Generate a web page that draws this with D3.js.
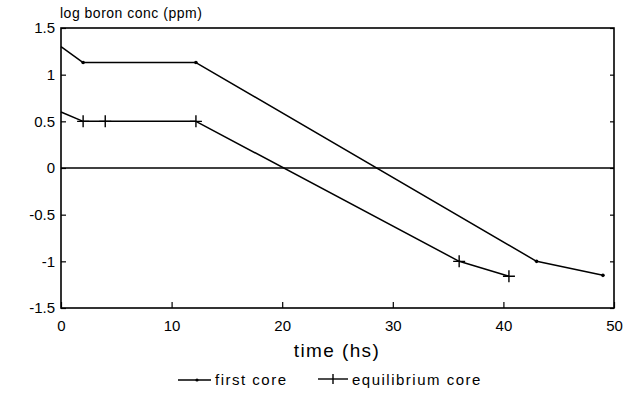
<!DOCTYPE html>
<html>
<head>
<meta charset="utf-8">
<script src="https://cdn.jsdelivr.net/npm/d3@7/dist/d3.min.js"></script>
<style>
  html, body { margin: 0; padding: 0; background: #fff; }
  svg text { font-family: "Liberation Sans", Arial, Helvetica, sans-serif; fill: #000; }
</style>
</head>
<body>
<svg id="chart" width="635" height="398"></svg>
<script>
// Boron concentration (log ppm) against time (hours) for two cores
const firstCoreTime  = [0, 2, 12.2, 43, 49];
const firstCoreLog   = [1.30, 1.13, 1.13, -1.00, -1.15];
const equilCoreTime  = [0, 2, 4, 12.2, 36, 40.5];
const equilCoreLog   = [0.60, 0.50, 0.50, 0.50, -1.00, -1.16];

const xTicks = [0, 10, 20, 30, 40, 50];
const yTicks = [1.5, 1, 0.5, 0, -0.5, -1, -1.5];
const yTickLabels = ["1.5", "1", "0.5", "0", "-0.5", "-1", "-1.5"];

const seriesNames = ["first core", "equilibrium core"];

const svg = d3.select("#chart");
const plotLeft = 61, plotRight = 614, plotTop = 28, plotBottom = 308;

const x = d3.scaleLinear().domain([0, 50]).range([plotLeft, plotRight]);
const y = d3.scaleLinear().domain([-1.5, 1.5]).range([plotBottom, plotTop]);

// frame
svg.append("rect")
  .attr("x", plotLeft).attr("y", plotTop)
  .attr("width", plotRight - plotLeft).attr("height", plotBottom - plotTop)
  .attr("fill", "none").attr("stroke", "#000").attr("stroke-width", 1.6);

// zero line
svg.append("line")
  .attr("x1", plotLeft).attr("x2", plotRight)
  .attr("y1", y(0)).attr("y2", y(0))
  .attr("stroke", "#000").attr("stroke-width", 1.3);

// y axis: inward ticks on both sides
const yAxis = d3.axisLeft(y).tickValues(yTicks).tickSize(-5).tickPadding(10)
  .tickFormat((d, i) => yTickLabels[i]);
const gy = svg.append("g").attr("transform", `translate(${plotLeft},0)`).call(yAxis);
gy.select(".domain").remove();
gy.selectAll("line").attr("stroke", "#000").attr("stroke-width", 1.2);
gy.selectAll("text").attr("font-size", 15).attr("x", -6)
  .style("font-family", "'Liberation Sans', Arial, sans-serif");

const yAxisR = d3.axisRight(y).tickValues(yTicks).tickSize(-4).tickFormat("");
const gyr = svg.append("g").attr("transform", `translate(${plotRight},0)`).call(yAxisR);
gyr.select(".domain").remove();
gyr.selectAll("line").attr("stroke", "#000").attr("stroke-width", 1.2);

// x axis: inward ticks
const xAxis = d3.axisBottom(x).tickValues(xTicks).tickSize(-6).tickPadding(12);
const gx = svg.append("g").attr("transform", `translate(0,${plotBottom})`).call(xAxis);
gx.select(".domain").remove();
gx.selectAll("line").attr("stroke", "#000").attr("stroke-width", 1.2);
gx.selectAll("text").attr("font-size", 15)
  .style("font-family", "'Liberation Sans', Arial, sans-serif");

// titles
svg.append("text").attr("x", 337).attr("y", 357)
  .attr("text-anchor", "middle").attr("font-size", 19)
  .attr("letter-spacing", 1.4).text("time (hs)");
svg.append("text").attr("x", 60).attr("y", 18)
  .attr("font-size", 14).attr("letter-spacing", 0.5).text("log boron conc (ppm)");

const line = d3.line().x(d => x(d[0])).y(d => y(d[1]));
const firstPts = firstCoreTime.map((t, i) => [t, firstCoreLog[i]]);
const equilPts = equilCoreTime.map((t, i) => [t, equilCoreLog[i]]);

[firstPts, equilPts].forEach(pts => {
  svg.append("path").datum(pts).attr("d", line)
    .attr("fill", "none").attr("stroke", "#000").attr("stroke-width", 1.5)
    .attr("stroke-linejoin", "round");
});

// markers: dots for first core, plus signs for equilibrium core
svg.append("g").selectAll("circle").data(firstPts.slice(1)).join("circle")
  .attr("cx", d => x(d[0])).attr("cy", d => y(d[1])).attr("r", 1.8)
  .attr("fill", "#000");

svg.append("g").selectAll("path").data(equilPts.slice(1)).join("path")
  .attr("d", d => `M${x(d[0]) - 6},${y(d[1])}h12M${x(d[0])},${y(d[1]) - 6}v12`)
  .attr("stroke", "#000").attr("stroke-width", 1.4).attr("fill", "none");

// legend
const lg = svg.append("g");
lg.append("line").attr("x1", 178).attr("x2", 211).attr("y1", 380).attr("y2", 380)
  .attr("stroke", "#000").attr("stroke-width", 1.4);
lg.append("circle").attr("cx", 197).attr("cy", 380).attr("r", 1.6).attr("fill", "#000");
lg.append("text").attr("x", 215).attr("y", 385).attr("font-size", 15)
  .attr("letter-spacing", 1.5).text(seriesNames[0]);

lg.append("line").attr("x1", 318).attr("x2", 348).attr("y1", 379).attr("y2", 379)
  .attr("stroke", "#000").attr("stroke-width", 1.4);
lg.append("line").attr("x1", 333).attr("x2", 333).attr("y1", 374).attr("y2", 384)
  .attr("stroke", "#000").attr("stroke-width", 1.4);
lg.append("text").attr("x", 352).attr("y", 385).attr("font-size", 15)
  .attr("letter-spacing", 1.5).text(seriesNames[1]);
</script>
</body>
</html>
